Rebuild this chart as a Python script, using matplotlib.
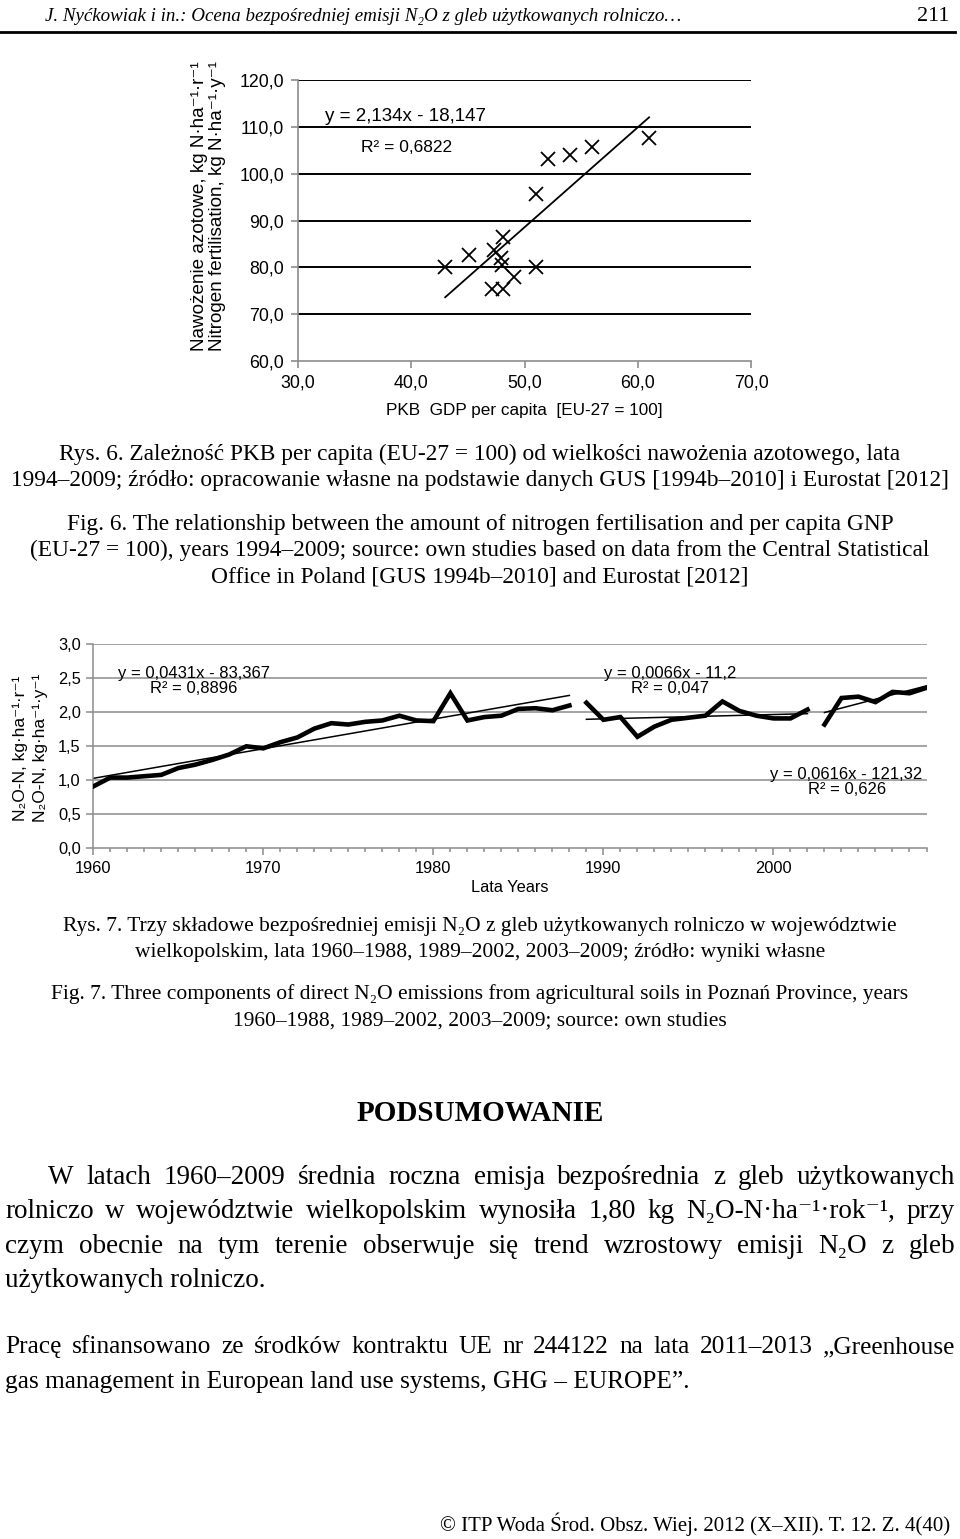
import numpy as np
import matplotlib
matplotlib.use("Agg")
import matplotlib.pyplot as plt
from matplotlib.lines import Line2D
from matplotlib.ticker import MultipleLocator, FuncFormatter

W, H = 960, 1539

# --- Rys. 6: GDP per capita vs nitrogen fertilisation (1994-2009)
gdp = [43.0, 45.1, 47.3, 48.1, 47.9, 48.0, 49.1, 47.1, 48.1, 51.0, 51.0, 52.1, 54.0, 56.0, 61.0]
fert = [80.0, 82.6, 83.8, 86.4, 81.9, 80.4, 78.0, 75.4, 75.4, 80.0, 95.7, 103.2, 103.9, 105.6, 107.6]
fit6 = (2.134, -18.147)

# --- Rys. 7: direct N2O emissions, three periods
years_a = np.arange(1960, 1989)
emis_a = [0.91, 1.04, 1.04, 1.06, 1.08, 1.18, 1.23, 1.30, 1.38, 1.50,
          1.47, 1.56, 1.63, 1.76, 1.84, 1.82, 1.86, 1.88, 1.95, 1.88,
          1.87, 2.28, 1.88, 1.93, 1.95, 2.05, 2.06, 2.03, 2.10]
years_b = np.arange(1989, 2003)
emis_b = [2.14, 1.89, 1.93, 1.64, 1.79, 1.89, 1.92, 1.95, 2.16, 2.02,
          1.95, 1.91, 1.91, 2.04]
years_c = np.arange(2003, 2010)
emis_c = [1.82, 2.21, 2.23, 2.15, 2.30, 2.28, 2.36]
fit_labels = ["y = 0,0431x - 83,367\nR² = 0,8896",
              "y = 0,0066x - 11,2\nR² = 0,047",
              "y = 0,0616x - 121,32\nR² = 0,626"]

SERIF = ["Liberation Serif", "DejaVu Serif"]
SANS = ["Liberation Sans", "DejaVu Sans"]
plt.rcParams["font.family"] = SANS


def fx(x):
    return x / W


def fy(y):
    return 1 - y / H


def comma(v, pos=None):
    return ("%.1f" % v).replace(".", ",")


fig = plt.figure(figsize=(W / 100, H / 100), dpi=100)

# header
fig.text(fx(45), fy(21), "J. Nyćkowiak i in.: Ocena bezpośredniej emisji N₂O z gleb użytkowanych rolniczo…",
         family=SERIF, style="italic", fontsize=13.7, va="baseline")
fig.text(fx(950), fy(21), "211", family=SERIF, fontsize=16, ha="right", va="baseline")
fig.add_artist(Line2D([0, 0.995], [fy(32), fy(32)], color="black", lw=2))

# ---------- top chart
ax1 = fig.add_axes([fx(298), fy(361), (751 - 298) / W, (361 - 80) / H])
ax1.set_xlim(30, 70)
ax1.set_ylim(60, 120)
ax1.xaxis.set_major_locator(MultipleLocator(10))
ax1.yaxis.set_major_locator(MultipleLocator(10))
ax1.xaxis.set_major_formatter(FuncFormatter(comma))
ax1.yaxis.set_major_formatter(FuncFormatter(comma))
for yv in range(70, 121, 10):
    ax1.axhline(yv, color="black", lw=1.4, zorder=1)
for s in ["top", "right"]:
    ax1.spines[s].set_visible(False)
for s in ["left", "bottom"]:
    ax1.spines[s].set_color("#8c8c8c")
    ax1.spines[s].set_linewidth(1.2)
ax1.tick_params(colors="#8c8c8c", labelcolor="black", labelsize=12.8, length=5, width=1.2, pad=5)
ax1.plot(gdp, fert, "x", color="black", ms=10, mew=1.3, zorder=3)
xs = np.array([min(gdp), max(gdp)])
ax1.plot(xs, fit6[0] * xs + fit6[1], color="black", lw=1.3, zorder=2)
ax1.text(32.4, 112.2, "y = 2,134x - 18,147", fontsize=13.5, va="center")
ax1.text(35.6, 105.6, "R² = 0,6822", fontsize=12.5, va="center")
ax1.set_xlabel("PKB  GDP per capita  [EU-27 = 100]", fontsize=12.3, labelpad=8)
fig.text(fx(200), fy(206), "Nawożenie azotowe, kg N·ha⁻¹·r⁻¹", rotation=90,
         ha="center", va="center", fontsize=13.6)
fig.text(fx(218), fy(206), "Nitrogen fertilisation, kg N·ha⁻¹·y⁻¹", rotation=90,
         ha="center", va="center", fontsize=13.6)

# captions
def centered(lines, y0, step, size):
    for i, s in enumerate(lines):
        fig.text(0.5, fy(y0 + i * step), s, family=SERIF, fontsize=size, ha="center", va="baseline")


centered(["Rys. 6. Zależność PKB per capita (EU-27 = 100) od wielkości nawożenia azotowego, lata",
          "1994–2009; źródło: opracowanie własne na podstawie danych GUS [1994b–2010] i Eurostat [2012]"],
         460, 26, 16.8)
centered(["Fig. 6. The relationship between the amount of nitrogen fertilisation and per capita GNP",
          "(EU-27 = 100), years 1994–2009; source: own studies based on data from the Central Statistical",
          "Office in Poland [GUS 1994b–2010] and Eurostat [2012]"],
         530, 26, 16.8)

# ---------- bottom chart
ax2 = fig.add_axes([fx(93.3), fy(848.3), (926.5 - 93.3) / W, 204 / H])
ax2.set_xlim(1960, 2009)
ax2.set_ylim(0, 3)
ax2.xaxis.set_major_locator(MultipleLocator(10))
ax2.xaxis.set_minor_locator(MultipleLocator(1))
ax2.yaxis.set_major_locator(MultipleLocator(0.5))
ax2.yaxis.set_major_formatter(FuncFormatter(comma))
for yv in np.arange(0.5, 3.01, 0.5):
    ax2.axhline(yv, color="#8c8c8c", lw=1.1, zorder=1)
for s in ["top", "right"]:
    ax2.spines[s].set_visible(False)
for s in ["left", "bottom"]:
    ax2.spines[s].set_color("#8c8c8c")
    ax2.spines[s].set_linewidth(1.1)
ax2.tick_params(which="both", colors="#8c8c8c", labelcolor="black", labelsize=11.8, width=1.1)
ax2.tick_params(which="major", length=5, pad=4)
ax2.tick_params(which="minor", length=3)
ax2.set_xlabel("Lata Years", fontsize=11.8, labelpad=3)

label_pos = [(1965.9, 2.46), (1993.9, 2.46), (2004.3, 0.98)]
for (yrs, vals), lab, pos in zip([(years_a, emis_a), (years_b, emis_b), (years_c, emis_c)],
                                 fit_labels, label_pos):
    ax2.plot(yrs, vals, color="black", lw=3.3, solid_joinstyle="miter", zorder=3)
    k, b = np.polyfit(yrs, vals, 1)
    ends = np.array([yrs[0], yrs[-1]])
    ax2.plot(ends, k * ends + b, color="black", lw=1.1, zorder=2)
    ax2.text(pos[0], pos[1], lab, fontsize=12, ha="center", va="center", linespacing=1.0)

fig.text(fx(20), fy(748), "N₂O-N, kg·ha⁻¹·r⁻¹", rotation=90, ha="center", va="center", fontsize=12.5)
fig.text(fx(40), fy(748), "N₂O-N, kg·ha⁻¹·y⁻¹", rotation=90, ha="center", va="center", fontsize=12.5)

centered(["Rys. 7. Trzy składowe bezpośredniej emisji N₂O z gleb użytkowanych rolniczo w województwie",
          "wielkopolskim, lata 1960–1988, 1989–2002, 2003–2009; źródło: wyniki własne"],
         931, 26, 15.5)
centered(["Fig. 7. Three components of direct N₂O emissions from agricultural soils in Poznań Province, years",
          "1960–1988, 1989–2002, 2003–2009; source: own studies"],
         999, 26, 15.5)

# ---------- summary
fig.text(0.5, fy(1121), "PODSUMOWANIE", family=SERIF, fontsize=21, weight="bold", ha="center", va="baseline")

renderer = fig.canvas.get_renderer()


def justify(text, y, x0, x1, size):
    words = text.split()
    objs = [fig.text(0, fy(y), w, family=SERIF, fontsize=size, va="baseline") for w in words]
    widths = [o.get_window_extent(renderer).width for o in objs]
    gap = (x1 - x0 - sum(widths)) / (len(words) - 1)
    x = x0
    for o, w in zip(objs, widths):
        o.set_x(fx(x))
        x += w + gap


def left(text, y, x0, size):
    fig.text(fx(x0), fy(y), text, family=SERIF, fontsize=size, va="baseline")


psize = 19.5
justify("W latach 1960–2009 średnia roczna emisja bezpośrednia z gleb użytkowanych", 1184, 48, 955, psize)
justify("rolniczo w województwie wielkopolskim wynosiła 1,80 kg N₂O-N·ha⁻¹·rok⁻¹, przy", 1218, 5, 955, psize)
justify("czym obecnie na tym terenie obserwuje się trend wzrostowy emisji N₂O z gleb", 1253, 5, 955, psize)
left("użytkowanych rolniczo.", 1287, 5, psize)
justify("Pracę sfinansowano ze środków kontraktu UE nr 244122 na lata 2011–2013 „Greenhouse", 1353, 5, 955, 18.3)
left("gas management in European land use systems, GHG – EUROPE”.", 1388, 5, 18.3)

fig.text(fx(950), fy(1531), "© ITP Woda Środ. Obsz. Wiej. 2012 (X–XII). T. 12. Z. 4(40)",
         family=SERIF, fontsize=15, ha="right", va="baseline")

fig.savefig("out.png", dpi=100)
